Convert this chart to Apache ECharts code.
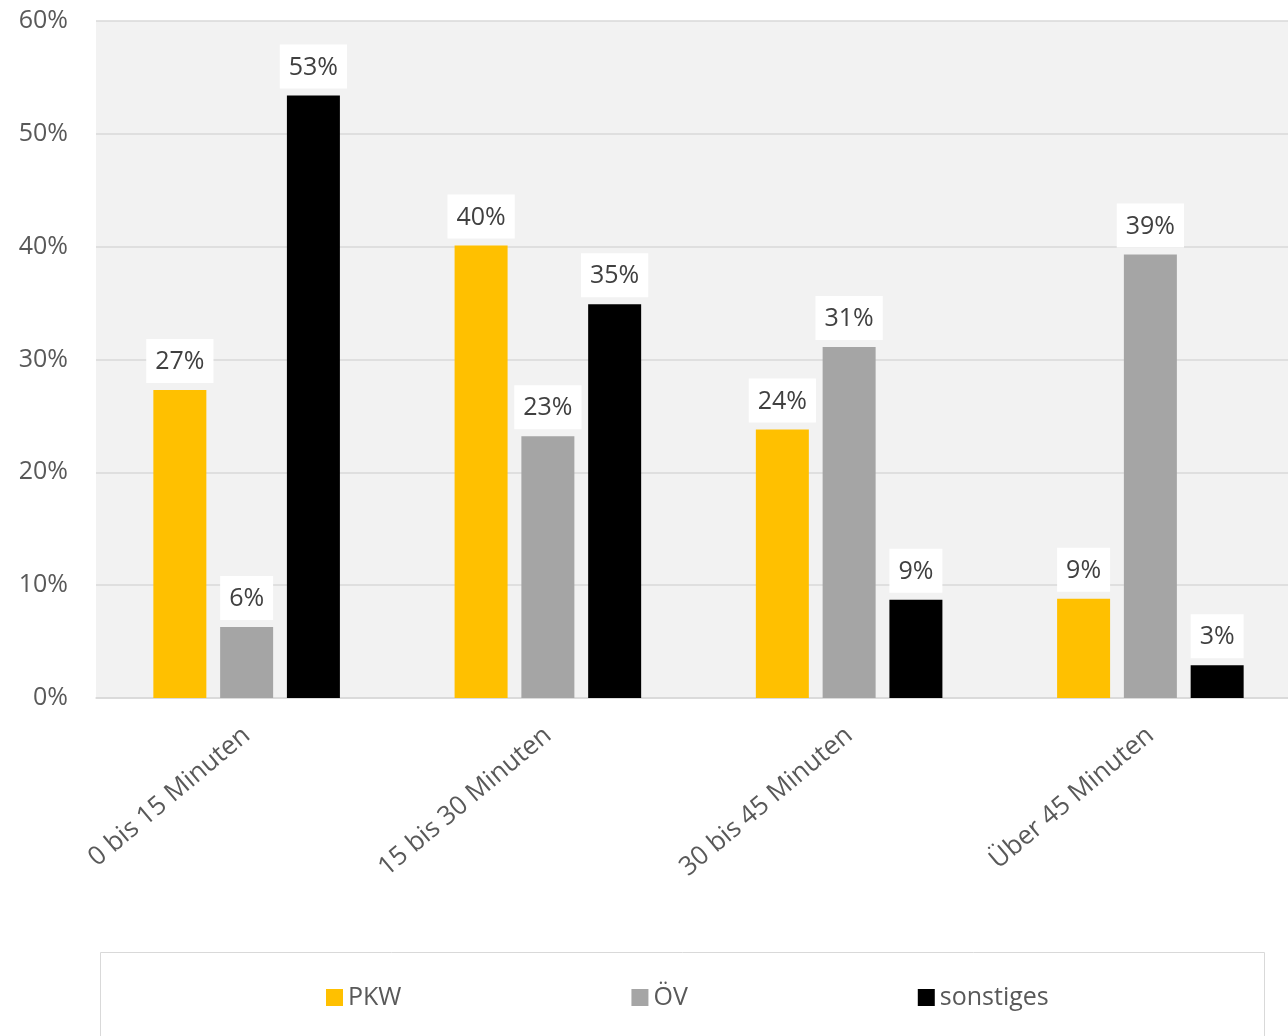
<!DOCTYPE html>
<html>
<head>
<meta charset="utf-8">
<script src="https://cdn.jsdelivr.net/npm/echarts@6/dist/echarts.min.js"></script>
<style>
  html, body { margin: 0; padding: 0; background: #ffffff; }
  #chart { width: 1288px; height: 1036px; }
</style>
</head>
<body>
<div id="chart"></div>
<script>
// Travel time categories and mode shares (percent)
const categories = ['0 bis 15 Minuten', '15 bis 30 Minuten', '30 bis 45 Minuten', 'Über 45 Minuten'];
const seriesNames = ['PKW', 'ÖV', 'sonstiges'];
const pkwValues = [27.3, 40.1, 23.8, 8.8];
const oevValues = [6.3, 23.2, 31.1, 39.3];
const sonstigesValues = [53.4, 34.9, 8.7, 2.9];
const yTicks = [0, 10, 20, 30, 40, 50, 60];

const colors = ['#ffc000', '#a5a5a5', '#000000'];
const fontFamily = '"Open Sans", "Noto Sans", sans-serif';
const textColor = '#595959';

const chart = echarts.init(document.getElementById('chart'));

function barSeries(name, values, color) {
  return {
    name: name,
    type: 'bar',
    data: values,
    barWidth: 53,
    barGap: '26%',
    itemStyle: { color: color },
    label: {
      show: true,
      position: 'top',
      distance: 7,
      formatter: p => Math.round(p.value) + '%',
      color: '#404040',
      fontSize: 25,
      lineHeight: 28,
      fontFamily: fontFamily,
      backgroundColor: '#ffffff',
      padding: [9, 9, 7, 9]
    }
  };
}

chart.setOption({
  animation: false,
  textStyle: { fontFamily: fontFamily },
  graphic: [{
    type: 'rect',
    z: -1,
    shape: { x: 100.5, y: 952.5, width: 1164, height: 120 },
    style: { fill: '#ffffff', stroke: '#d9d9d9', lineWidth: 1 }
  }],
  grid: {
    left: 96,
    top: 21,
    width: 1205,
    bottom: 338,
    outerBoundsMode: 'none',
    containLabel: false,
    show: true,
    backgroundColor: '#f2f2f2',
    borderWidth: 0
  },
  legend: {
    data: seriesNames,
    top: 980,
    left: 321,
    icon: 'rect',
    itemWidth: 17,
    itemHeight: 17,
    itemGap: 230,
    textStyle: { color: textColor, fontSize: 25, fontFamily: fontFamily }
  },
  xAxis: {
    type: 'category',
    data: categories,
    axisTick: { show: false },
    axisLine: { lineStyle: { color: '#d9d9d9', width: 1.5 } },
    axisLabel: {
      rotate: 40,
      margin: 34,
      color: textColor,
      fontSize: 26,
      fontFamily: fontFamily
    }
  },
  yAxis: {
    type: 'value',
    min: yTicks[0],
    max: yTicks[yTicks.length - 1],
    interval: yTicks[1] - yTicks[0],
    axisLine: { show: false },
    axisTick: { show: false },
    splitLine: { lineStyle: { color: '#d9d9d9', width: 1.5 } },
    axisLabel: {
      formatter: '{value}%',
      margin: 28,
      color: textColor,
      fontSize: 25,
      fontFamily: fontFamily
    }
  },
  series: [
    barSeries(seriesNames[0], pkwValues, colors[0]),
    barSeries(seriesNames[1], oevValues, colors[1]),
    barSeries(seriesNames[2], sonstigesValues, colors[2])
  ]
});
</script>
</body>
</html>
